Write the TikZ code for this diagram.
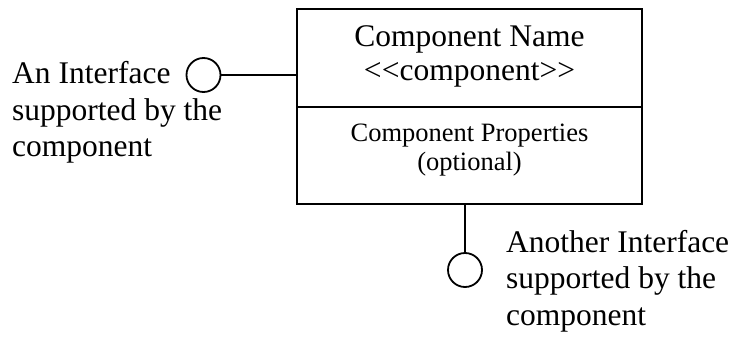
\documentclass[tikz,border=0pt]{standalone}
\usepackage{fontspec}
\setmainfont{Liberation Serif}
\begin{document}
\begin{tikzpicture}[x=1pt,y=-1pt,
  part/.style={draw, line width=1.8pt, minimum width=345pt, inner sep=0pt},
  lbl/.style={inner sep=0pt, align=left, font=\fontsize{31.5}{36.5}\selectfont},
  ttl/.style={inner sep=0pt, align=center, font=\fontsize{31.5}{33}\selectfont},
  prop/.style={inner sep=0pt, align=center, font=\fontsize{26.5}{28.5}\selectfont},
  iface/.style={draw, circle, line width=1.8pt, minimum size=34pt, inner sep=0pt},
  wire/.style={line width=1.6pt}]
\useasboundingbox (0,0) rectangle (733,337);
\node[part, minimum height=98pt] (top) at (469.5,58) {};
\node[part, minimum height=97pt] (bot) at (469.5,155.5) {};
\node[ttl, anchor=base] (name) at (469.5,80) {Component Name\\{<}{<}component{>}{>}};
\node[prop, anchor=base] (props) at (469.5,170) {Component Properties\\(optional)};
\node[iface] (c1) at (203.5,75) {};
\node[iface] (c2) at (465,270) {};
\coordinate (p1) at (top.west |- c1);
\coordinate (p2) at (c2 |- bot.south);
\draw[wire] (c1.east) -- (p1);
\draw[wire] (c2.north) -- (p2);
\node[lbl, anchor=base west] (l1) at (12,156.7) {An Interface\\supported by the\\component};
\node[lbl, anchor=base west] (l2) at (506,325) {Another Interface\\supported by the\\component};
\end{tikzpicture}
\end{document}
